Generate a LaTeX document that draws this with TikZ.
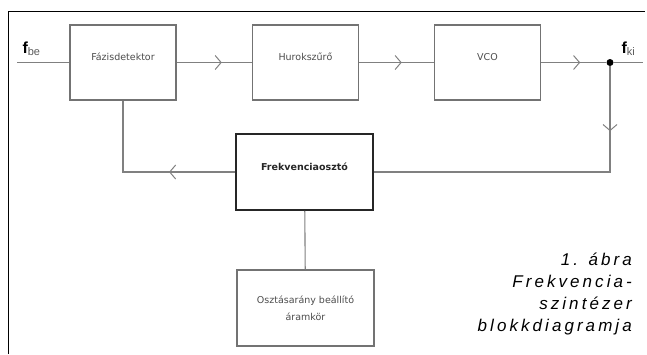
\documentclass[tikz,border=0pt]{standalone}
\usepackage{fontspec}
\setmainfont{DejaVu Sans}
\newfontfamily\labelfont{Liberation Sans}
\newfontfamily\captionfont[LetterSpace=18]{Liberation Sans}
\usetikzlibrary{positioning, decorations.markings, arrows.meta}

\begin{document}
\begin{tikzpicture}[
            x=1pt, y=-1pt,
            block/.style={draw=black!55, line width=1.1pt, minimum width=106pt, minimum height=75pt,
                font=\fontsize{9.5}{17}\selectfont, text=black!70, text height=8pt, text depth=12pt},
            mainblock/.style={block, draw=black!85, line width=1.8pt, minimum width=137pt, minimum height=76pt,
                font=\fontsize{9.5}{17}\selectfont\bfseries, text=black!85},
            wire/.style={draw=black!50, line width=1.1pt},
            flow/.style={wire, postaction={decorate}, decoration={markings,
                mark=at position #1 with {\arrow{Straight Barb[length=6pt, width=14pt, line width=1pt]}}}},
            flow/.default=0.6,
            signal/.style={font=\labelfont, text=black},
        ]

        \useasboundingbox (0,0) rectangle (647,354);

        % Frame
        \draw[line width=1pt] (8,354) -- (8,11) -- (645,11);

        % Forward path
        \node[block] (fazis) at (123,62.5) {Fázisdetektor};
        \node[block] (hurok) at (305.5,62.5) {Hurokszűrő};
        \node[block] (vco) at (487.5,62.5) {VCO};

        % Divider and its setting circuit
        \node[mainblock] (oszto) at (304.5,172) {Frekvenciaosztó};
        \node[block, minimum width=137pt, minimum height=76pt, text height=, text depth=, align=center]
            (beall) at (305.5,308) {Osztásarány beállító\\áramkör};

        % Input, output and branch point
        \coordinate (in) at (17,62.5);
        \coordinate (out) at (643,62.5);
        \node[circle, fill=black, inner sep=0pt, minimum size=7pt] (split) at (610,62.5) {};
        \coordinate (back) at (split |- oszto);
        \coordinate (corner) at (fazis |- oszto);

        % Connections
        \draw[wire] (in) -- (fazis.west);
        \draw[flow] (fazis) -- (hurok);
        \draw[flow=0.57] (hurok) -- (vco);
        \draw[flow] (vco) -- (split);
        \draw[wire] (split) -- (out);
        \draw[flow=0.19] (split) -- (back) -- (oszto.east);
        \draw[flow=0.36] (oszto.west) -- (corner) -- (fazis.south);
        \draw[wire] (oszto) -- (beall);

        % Signal labels
        \node[signal, anchor=base west] (fbe) at (19,53) {\fontsize{16}{16}\selectfont\bfseries f\fontsize{11}{11}\selectfont\mdseries\raisebox{-2pt}{\color{black!65}be}};
        \node[signal, anchor=base west] (fki) at (618,53) {\fontsize{16}{16}\selectfont\bfseries f\fontsize{11}{11}\selectfont\mdseries\raisebox{-2pt}{\color{black!65}ki}};

        % Caption
        \node[anchor=north east, align=right, inner sep=0pt, font=\captionfont\itshape\fontsize{17}{22}\selectfont]
            (caption) at (632,253) {1. ábra\\Frekvencia-\\szintézer\\blokkdiagramja};

    \end{tikzpicture}
\end{document}
